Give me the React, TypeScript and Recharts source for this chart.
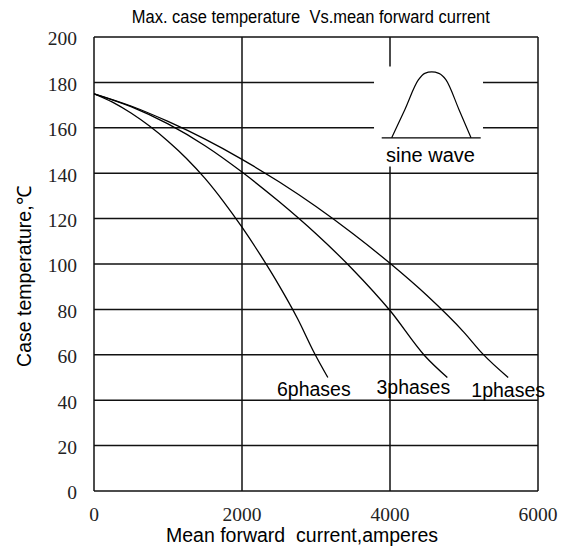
import React from "react";
import {
  LineChart,
  Line,
  XAxis,
  YAxis,
  CartesianGrid,
  ReferenceArea,
  Label,
} from "recharts";

// ---- Data ----
const xTicks = [0, 2000, 4000, 6000];
const yTicks = [0, 20, 40, 60, 80, 100, 120, 140, 160, 180, 200];

const phase6Current = [0, 250, 500, 750, 1000, 1250, 1500, 1750, 2000, 2250, 2500, 2750, 2979, 3160];
const phase6Temp = [175, 171.3, 166.5, 160.75, 154.1, 146.5, 137.7, 127.5, 116.2, 103.9, 90.6, 76, 60.7, 50];

const phase3Current = [0, 500, 1000, 1500, 2000, 2500, 3000, 3500, 4000, 4469, 4775];
const phase3Temp = [175, 169.3, 161.7, 152.1, 140.5, 127.5, 113.3, 97.5, 79.5, 59.6, 50];

const phase1Current = [0, 500, 1000, 1500, 2000, 2500, 3000, 3500, 4000, 4500, 5000, 5250, 5597];
const phase1Temp = [175, 169.6, 162.8, 155, 146.1, 136.2, 125.3, 113.3, 100.3, 86.1, 69.9, 60.5, 50];

// inset "sine wave" pictogram
const sineX = [4023, 4200, 4383, 4470, 4564, 4660, 4757, 4930, 5095];
const sineY = [155.6, 168.0, 181.1, 184.0, 184.6, 184.0, 181.1, 168.2, 155.6];
const sineBaseX = [3888, 5226];
const sineBaseY = [155.6, 155.6];
const insetX = [3784, 5257];
const insetY = [143, 187];

const seriesNames = ["6phases", "3phases", "1phases"];

const zip = (xs: number[], ys: number[]) => xs.map((x, i) => ({ x, y: ys[i] }));

const phase6Data = zip(phase6Current, phase6Temp);
const phase3Data = zip(phase3Current, phase3Temp);
const phase1Data = zip(phase1Current, phase1Temp);
const sineData = zip(sineX, sineY);
const sineBaseData = zip(sineBaseX, sineBaseY);

const SANS = "'Liberation Sans', Arial, Helvetica, sans-serif";
const SERIF = "'Liberation Serif', 'Times New Roman', serif";

const makeEndLabel = (text: string, lastIndex: number, dx: number, dy: number) =>
  (props: any) => {
    if (props.index !== lastIndex) return null;
    const px = props.viewBox?.x ?? props.x;
    const py = props.viewBox?.y ?? props.y;
    if (px == null || py == null) return null;
    return (
      <text
        x={px + dx}
        y={py + dy}
        textAnchor="middle"
        fontFamily={SANS}
        fontSize={19.5}
        fill="#000"
      >
        {text}
      </text>
    );
  };

export default function App() {
  return (
    <div style={{ position: "absolute", left: 0, top: 0, width: 570, height: 553, background: "#fff" }}>
      <LineChart
        width={570}
        height={553}
        margin={{ top: 37, right: 32, left: 0, bottom: 32 }}
      >
        <CartesianGrid stroke="#111" strokeWidth={1.5} />
        <XAxis
          type="number"
          dataKey="x"
          domain={[0, 6000]}
          ticks={xTicks}
          axisLine={false}
          tickLine={false}
          tickSize={0}
          tickMargin={16}
          height={30}
          tick={{ fontFamily: SERIF, fontSize: 19.5, fill: "#222" }}
          allowDataOverflow
        >
          <Label
            content={(p: any) => {
              const vb = p.viewBox || { x: 94, y: 491, width: 444 };
              return (
                <text
                  x={vb.x + vb.width / 2 - 14}
                  y={vb.y + 51}
                  textAnchor="middle"
                  fontFamily={SANS}
                  fontSize={19.5}
                  fill="#000"
                  style={{ whiteSpace: "pre" }}
                >
                  {"Mean forward  current,amperes"}
                </text>
              );
            }}
          />
        </XAxis>
        <YAxis
          type="number"
          domain={[0, 200]}
          ticks={yTicks}
          axisLine={false}
          tickLine={false}
          tickSize={0}
          tickMargin={17}
          width={94}
          tick={{ fontFamily: SERIF, fontSize: 19.5, fill: "#222", dy: 1.5 }}
          allowDataOverflow
        >
          <Label
            content={(p: any) => {
              const vb = p.viewBox || { x: 0, y: 37, width: 94, height: 454 };
              const cx = 24;
              const cy = vb.y + vb.height / 2 + 12.7;
              return (
                <text
                  x={cx}
                  y={cy}
                  textAnchor="middle"
                  dominantBaseline="central"
                  transform={`rotate(-90, ${cx}, ${cy})`}
                  fontFamily={SANS}
                  fontSize={19.5}
                  fill="#000"
                >
                  Case temperature,℃
                </text>
              );
            }}
          />
        </YAxis>

        <ReferenceArea
          x1={insetX[0]}
          x2={insetX[1]}
          y1={insetY[0]}
          y2={insetY[1]}
          fill="#fff"
          fillOpacity={1}
          stroke="none"
          ifOverflow="visible"
        >
          <Label
            content={(p: any) => {
              const vb = p.viewBox;
              if (!vb) return null;
              return (
                <text
                  x={vb.x + vb.width / 2 + 2}
                  y={vb.y + vb.height - 4.3}
                  textAnchor="middle"
                  fontFamily={SANS}
                  fontSize={20}
                  fill="#000"
                >
                  sine wave
                </text>
              );
            }}
          />
        </ReferenceArea>

        <Line
          data={sineBaseData}
          dataKey="y"
          type="linear"
          stroke="#000"
          strokeWidth={1.2}
          dot={false}
          activeDot={false}
          isAnimationActive={false}
          legendType="none"
        />
        <Line
          data={sineData}
          dataKey="y"
          type="monotone"
          stroke="#000"
          strokeWidth={1.2}
          dot={false}
          activeDot={false}
          isAnimationActive={false}
          legendType="none"
        />

        <Line
          data={phase6Data}
          dataKey="y"
          name={seriesNames[0]}
          type="monotone"
          stroke="#000"
          strokeWidth={1.3}
          dot={false}
          activeDot={false}
          isAnimationActive={false}
          label={makeEndLabel(seriesNames[0], phase6Data.length - 1, -14, 18.5)}
        />
        <Line
          data={phase3Data}
          dataKey="y"
          name={seriesNames[1]}
          type="monotone"
          stroke="#000"
          strokeWidth={1.3}
          dot={false}
          activeDot={false}
          isAnimationActive={false}
          label={makeEndLabel(seriesNames[1], phase3Data.length - 1, -34, 16.5)}
        />
        <Line
          data={phase1Data}
          dataKey="y"
          name={seriesNames[2]}
          type="monotone"
          stroke="#000"
          strokeWidth={1.3}
          dot={false}
          activeDot={false}
          isAnimationActive={false}
          label={makeEndLabel(seriesNames[2], phase1Data.length - 1, 0, 19)}
        />
      </LineChart>
      <svg
        width={570}
        height={32}
        style={{ position: "absolute", left: 0, top: 0, pointerEvents: "none" }}
      >
        <text
          x={310.8}
          y={22.7}
          textAnchor="middle"
          fontFamily="'Liberation Sans Narrow', 'Arial Narrow', 'Liberation Sans', sans-serif"
          fontSize={17.5}
          textLength={358}
          lengthAdjust="spacingAndGlyphs"
          fill="#000"
          style={{ whiteSpace: "pre" }}
        >
          {"Max. case temperature  Vs.mean forward current"}
        </text>
      </svg>
    </div>
  );
}
